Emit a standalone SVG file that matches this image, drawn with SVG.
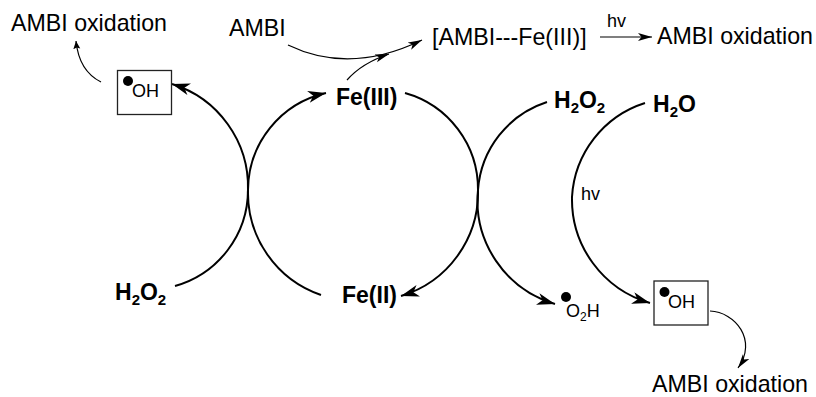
<svg xmlns="http://www.w3.org/2000/svg" width="816" height="397" viewBox="0 0 816 397">
<style>
text{font-family:"Liberation Sans",Arial,sans-serif;fill:#000}
.l{font-size:23.2px}.b{font-size:23px;font-weight:bold}.s{font-size:18px}.h{font-size:18px}
.c{fill:none;stroke:#000;stroke-width:2}.t{fill:none;stroke:#000;stroke-width:1.2}
.box{fill:#fff;stroke:#222;stroke-width:1.3}
</style>
<defs>
<marker id="a" markerUnits="userSpaceOnUse" markerWidth="20" markerHeight="14" refX="18" refY="6" orient="auto"><path d="M0,0L18,6L0,12L5,6Z"/></marker>
<marker id="m" markerUnits="userSpaceOnUse" markerWidth="16" markerHeight="10" refX="14" refY="4" orient="auto"><path d="M0,0L14,4L0,8L3.5,4Z"/></marker>
<marker id="n" markerUnits="userSpaceOnUse" markerWidth="10" markerHeight="8" refX="8" refY="3.5" orient="auto"><path d="M0,0L8,3.5L0,7L1.5,3.5Z"/></marker>
</defs>
<g id="connectors">
<path class="c" d="M175,286A100,100 0 0 0 248,190"/>
<path class="c" marker-end="url(#a)" d="M248,190A108,108 0 0 0 172,84"/>
<path class="c" marker-end="url(#a)" d="M248,190A100,100 0 0 1 326,93"/>
<path class="c" d="M321,295A108,108 0 0 1 248,190"/>
<path class="c" d="M405,93A100,100 0 0 1 478,190"/>
<path class="c" marker-end="url(#a)" d="M478,190A108,108 0 0 1 401,296"/>
<path class="c" d="M547,102A100,100 0 0 0 478,190"/>
<path class="c" marker-end="url(#a)" d="M478,190A108,108 0 0 0 555,304"/>
<path class="c" d="M645,103A105,105 0 0 0 572,197"/>
<path class="c" marker-end="url(#a)" d="M572,197A108,108 0 0 0 650,303"/>
<path class="t" marker-end="url(#n)" d="M101,82Q79,71 76,41"/>
<path class="t" marker-end="url(#m)" d="M288,45Q350,75 422,40"/>
<path class="t" marker-end="url(#m)" d="M347,80Q362,63 389,54"/>
<path class="t" marker-end="url(#m)" d="M600,37H652"/>
<path class="t" marker-end="url(#m)" d="M710,311C735,312 758,340 738,368"/>
</g>
<g id="oh-left"><rect class="box" x="117.500" y="70.500" width="54" height="44"/><circle cx="128" cy="81" r="5"/><text class="s" x="132" y="97">OH</text></g>
<g id="oh-right"><rect class="box" x="654" y="281" width="54" height="44"/><circle cx="664.500" cy="292" r="5"/><text class="s" x="668" y="308">OH</text></g>
<g id="ambi-ox-left"><text class="l" x="11" y="31">AMBI oxidation</text></g>
<g id="ambi"><text class="l" x="229" y="36">AMBI</text></g>
<g id="complex"><text class="l" x="432" y="45">[AMBI---Fe(III)]</text></g>
<g id="hv-top"><text class="h" x="607" y="27">hv</text></g>
<g id="ambi-ox-top"><text class="l" x="657" y="44">AMBI oxidation</text></g>
<g id="fe3"><text class="b" x="336" y="105">Fe(III)</text></g>
<g id="fe2"><text class="b" x="342" y="303">Fe(II)</text></g>
<g id="h2o2-left"><text class="b" x="115" y="300">H<tspan font-size="15" dy="5">2</tspan><tspan dy="-5">O</tspan><tspan font-size="15" dy="5">2</tspan></text></g>
<g id="h2o2-right"><text class="b" x="554" y="108">H<tspan font-size="15" dy="5">2</tspan><tspan dy="-5">O</tspan><tspan font-size="15" dy="5">2</tspan></text></g>
<g id="h2o"><text class="b" x="653" y="112">H<tspan font-size="15" dy="5">2</tspan><tspan dy="-5">O</tspan></text></g>
<g id="hv-arc"><text class="h" x="581" y="200">hv</text></g>
<g id="o2h"><circle cx="566" cy="297" r="5"/><text class="s" x="566" y="317">O<tspan font-size="12" dy="4">2</tspan><tspan dy="-4">H</tspan></text></g>
<g id="ambi-ox-bottom"><text class="l" x="652" y="392">AMBI oxidation</text></g>
</svg>
